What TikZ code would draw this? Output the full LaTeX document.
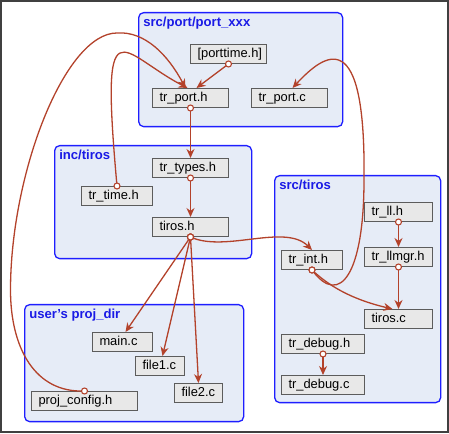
\documentclass[tikz,border=0pt]{standalone}
\usepackage{fontspec}
\setmainfont{Liberation Sans}
\usetikzlibrary{arrows.meta}
\definecolor{depred}{HTML}{B3422B}
\definecolor{pkgfill}{HTML}{E6ECF7}
\definecolor{pkgline}{HTML}{1E1EFF}
\definecolor{pkgtext}{HTML}{1A1AE6}
\definecolor{filefill}{HTML}{E8E8E8}
\definecolor{fileline}{HTML}{5C5C5C}
\definecolor{framegray}{HTML}{404040}

\begin{document}
\begin{tikzpicture}[x=1pt, y=1pt, semithick,
    font=\fontsize{12.9}{15}\selectfont,
    pkg/.style={rectangle, rounded corners=5pt, draw=pkgline, line width=1.3pt,
      fill=pkgfill, anchor=north west, inner sep=0pt},
    pkgname/.style={anchor=base west, inner sep=0pt, text=pkgtext,
      font=\fontsize{13.1}{15}\selectfont\bfseries},
    filebox/.style={rectangle, draw=fileline, line width=1pt, fill=filefill,
      anchor=north west, minimum height=19pt, inner xsep=7pt, inner ysep=0pt,
      text height=9.2pt, text depth=2.8pt, align=left, text width=#1},
    depline/.style={draw=depred, line width=1.3pt, -{Stealth[length=9pt,width=8pt]}},
    srcdot/.style={circle, draw=depred, fill=white, line width=1.1pt,
      inner sep=0pt, minimum size=6pt}
    ]
    \useasboundingbox (0,0) rectangle (449,433);
    \draw[line width=1.5pt, framegray] (1,1) rectangle (448,432);

    % directories
    \node[pkg, minimum width=204pt, minimum height=114pt] (pkgport) at (138,421) {};
    \node[pkg, minimum width=197pt, minimum height=113pt] (pkginc) at (54,288) {};
    \node[pkg, minimum width=166pt, minimum height=227pt] (pkgsrc) at (274,258) {};
    \node[pkg, minimum width=219pt, minimum height=117pt] (pkguser) at (24,129) {};
    \node[pkgname] (portname) at ([xshift=5pt,yshift=-15pt]pkgport.north west) {src/port/port\_xxx};
    \node[pkgname] (incname) at ([xshift=5pt,yshift=-15pt]pkginc.north west) {inc/tiros};
    \node[pkgname] (srcname) at ([xshift=5pt,yshift=-15pt]pkgsrc.north west) {src/tiros};
    \node[pkgname] (username) at ([xshift=5pt,yshift=-15pt]pkguser.north west) {user’s proj\_dir};

    % files
    \node[filebox=62pt] (porttime) at (190,389) {[porttime.h]};
    \node[filebox=62pt] (trporth) at (152,345) {tr\_port.h};
    \node[filebox=62pt] (trportc) at (251,345) {tr\_port.c};
    \node[filebox=62pt] (trtypes) at (152,275) {tr\_types.h};
    \node[filebox=57pt] (trtime) at (81,247) {tr\_time.h};
    \node[filebox=62pt] (tirosh) at (152,216) {tiros.h};
    \node[filebox=54pt] (trll) at (364,231) {tr\_ll.h};
    \node[filebox=54pt] (trllmgr) at (364,186) {tr\_llmgr.h};
    \node[filebox=47pt] (trint) at (281,183) {tr\_int.h};
    \node[filebox=54pt] (tirosc) at (364,124) {tiros.c};
    \node[filebox=69pt] (trdebugh) at (281,99) {tr\_debug.h};
    \node[filebox=69pt] (trdebugc) at (281,58) {tr\_debug.c};
    \node[filebox=46pt] (mainc) at (92,101) {main.c};
    \node[filebox=35pt] (fileone) at (135,77) {file1.c};
    \node[filebox=34pt] (filetwo) at (174,50) {file2.c};
    \node[filebox=92pt] (projconfig) at (31,42) {proj\_config.h};

    % includes
    \draw[depline] (porttime.south) node[srcdot] {} -- ([xshift=6pt]trporth.north);
    \draw[depline] (trporth.south) node[srcdot] {} -- (trtypes.north);
    \draw[depline] (trtypes.south) node[srcdot] {} -- (tirosh.north);
    \draw[depline] (trtime.north) node[srcdot] {}
      .. controls (100,435) and (120,380) .. ([xshift=-3pt]trporth.north);
    \draw[depline] (projconfig.north) node[srcdot] {}
      .. controls (35,40) and (10.5,85) .. (10.5,143)
      .. controls (10.5,260) and (65,400) .. (117,400)
      .. controls (145,402) and (168,378) .. ([xshift=-5pt]trporth.north);
    \draw[depline] (trint.south) node[srcdot] {}
      .. controls (340,125) and (364,160) .. (364,253)
      .. controls (366,410) and (325,380) .. ([xshift=3pt]trportc.north);
    \draw[depline] (trint.south) node[srcdot] {}
      .. controls (328,148) and (350,134) .. ([xshift=-6pt]tirosc.north);
    \draw[depline] (tirosh.south) node[srcdot] {}
      .. controls (225,180) and (285,210) .. (trint.north);
    \draw[depline] (tirosh.south) node[srcdot] {} -- ([xshift=3pt]mainc.north);
    \draw[depline] (tirosh.south) node[srcdot] {} -- ([xshift=2.5pt]fileone.north);
    \draw[depline] (tirosh.south) node[srcdot] {} -- (filetwo.north);
    \draw[depline] (trll.south) node[srcdot] {} -- (trllmgr.north);
    \draw[depline] (trllmgr.south) node[srcdot] {} -- (tirosc.north);
    \draw[depline] (trdebugh.south) node[srcdot] {} -- (trdebugc.north);
\end{tikzpicture}
\end{document}
